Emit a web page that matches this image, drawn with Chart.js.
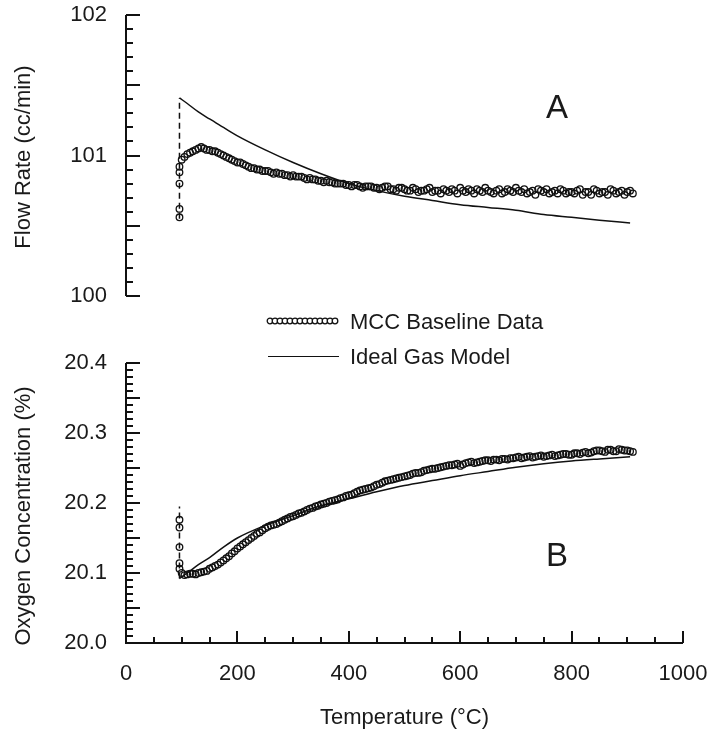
<!DOCTYPE html>
<html>
<head>
<meta charset="utf-8">
<script src="https://cdn.jsdelivr.net/npm/chart.js@4"></script>
<style>
  html, body { margin: 0; padding: 0; background: #fff; overflow: hidden; }
  body { width: 707px; height: 738px; position: relative; font-family: 'Liberation Sans', Arial, Helvetica, sans-serif; color: #1a1a1a; }
  canvas { position: absolute; left: 0; }
  .lbl { position: absolute; white-space: nowrap; }
  .ytitle { position: absolute; width: 0; height: 0; }
  .ytitle span { position: absolute; left: 0; top: 0; white-space: nowrap; font-size: 22px; transform: translate(-50%, -50%) rotate(-90deg); }
  .panel { font-size: 33px; transform: translate(-50%, -50%); }
  .legend-text { font-size: 22px; transform: translateY(-50%); }
</style>
</head>
<body>
<canvas id="flowChart" width="730" height="310" style="top:0"></canvas>
<canvas id="o2Chart" width="730" height="408" style="top:330px"></canvas>

<div class="ytitle" style="left:23px; top:157px"><span>Flow Rate (cc/min)</span></div>
<div class="ytitle" style="left:23px; top:516px"><span>Oxygen Concentration (%)</span></div>
<div class="lbl panel" style="left:557px; top:107px">A</div>
<div class="lbl panel" style="left:557px; top:555px">B</div>

<svg id="legendDots" width="76" height="12" style="position:absolute; left:265px; top:315px"></svg>
<div style="position:absolute; left:268px; top:356px; width:71px; height:0; border-top:1.5px solid #111"></div>
<div class="lbl legend-text" style="left:350px; top:322px">MCC Baseline Data</div>
<div class="lbl legend-text" style="left:350px; top:357px">Ideal Gas Model</div>

<script>
const FONT = "'Liberation Sans', Arial, Helvetica, sans-serif";

// start-up spike, all read at ~96 °C
const clusterTemp = 96;
const flowCluster = [100.56, 100.62, 100.80, 100.88, 100.92];
const o2Cluster = [20.176, 20.165, 20.137, 20.114, 20.106];
const flowDash = [100.55, 101.41];
const o2Dash = [20.092, 20.195];

// MCC baseline data (two interleaved sample sets)
const mccTemps = [100, 110, 120, 130, 140, 150, 160, 170, 180, 190,
  200, 210, 220, 230, 240, 250, 260, 270, 280, 290,
  300, 310, 320, 330, 340, 350, 360, 370, 380, 390,
  400, 410, 420, 430, 440, 450, 460, 470, 480, 490,
  500, 510, 520, 530, 540, 550, 560, 570, 580, 590,
  600, 610, 620, 630, 640, 650, 660, 670, 680, 690,
  700, 710, 720, 730, 740, 750, 760, 770, 780, 790,
  800, 810, 820, 830, 840, 850, 860, 870, 880, 890,
  900, 910];
const flowData = [100.97, 101.01, 101.03, 101.05, 101.05, 101.04, 101.03, 101.01, 100.99, 100.97,
  100.95, 100.94, 100.92, 100.91, 100.90, 100.89, 100.88, 100.88, 100.87, 100.86,
  100.86, 100.85, 100.84, 100.84, 100.83, 100.82, 100.82, 100.81, 100.80, 100.80,
  100.79, 100.79, 100.78, 100.78, 100.78, 100.77, 100.77, 100.78, 100.76, 100.77,
  100.76, 100.75, 100.76, 100.75, 100.76, 100.74, 100.75, 100.76, 100.74, 100.75,
  100.77, 100.74, 100.75, 100.76, 100.74, 100.75, 100.73, 100.76, 100.74, 100.75,
  100.77, 100.74, 100.73, 100.75, 100.76, 100.74, 100.73, 100.75, 100.76, 100.73,
  100.74, 100.75, 100.72, 100.74, 100.76, 100.73, 100.74, 100.76, 100.73, 100.75,
  100.74, 100.73];
const o2Data = [20.100, 20.098, 20.099, 20.100, 20.102, 20.106, 20.110, 20.115, 20.121, 20.128,
  20.135, 20.141, 20.147, 20.153, 20.158, 20.164, 20.168, 20.170, 20.174, 20.178,
  20.181, 20.185, 20.188, 20.192, 20.195, 20.198, 20.200, 20.203, 20.205, 20.208,
  20.211, 20.214, 20.218, 20.220, 20.222, 20.226, 20.229, 20.232, 20.234, 20.236,
  20.238, 20.240, 20.243, 20.244, 20.247, 20.249, 20.250, 20.252, 20.254, 20.255,
  20.253, 20.257, 20.259, 20.258, 20.260, 20.261, 20.262, 20.261, 20.263, 20.264,
  20.265, 20.264, 20.266, 20.265, 20.267, 20.266, 20.268, 20.267, 20.269, 20.270,
  20.269, 20.271, 20.272, 20.271, 20.274, 20.275, 20.273, 20.276, 20.274, 20.276,
  20.275, 20.273];
const mccTemps2 = [105, 115, 125, 135, 145, 155, 165, 175, 185, 195,
  205, 215, 225, 235, 245, 255, 265, 275, 285, 295,
  305, 315, 325, 335, 345, 355, 365, 375, 385, 395,
  405, 415, 425, 435, 445, 455, 465, 475, 485, 495,
  505, 515, 525, 535, 545, 555, 565, 575, 585, 595,
  605, 615, 625, 635, 645, 655, 665, 675, 685, 695,
  705, 715, 725, 735, 745, 755, 765, 775, 785, 795,
  805, 815, 825, 835, 845, 855, 865, 875, 885, 895,
  905];
const flowData2 = [100.99, 101.02, 101.04, 101.06, 101.04, 101.03, 101.02, 101.00, 100.98, 100.96,
  100.95, 100.93, 100.91, 100.90, 100.89, 100.89, 100.87, 100.87, 100.86, 100.85,
  100.85, 100.85, 100.83, 100.83, 100.82, 100.81, 100.81, 100.80, 100.80, 100.79,
  100.78, 100.79, 100.77, 100.78, 100.77, 100.76, 100.78, 100.76, 100.75, 100.77,
  100.75, 100.77, 100.74, 100.75, 100.77, 100.75, 100.73, 100.75, 100.76, 100.73,
  100.75, 100.76, 100.73, 100.75, 100.77, 100.74, 100.75, 100.73, 100.76, 100.74,
  100.75, 100.76, 100.74, 100.72, 100.75, 100.76, 100.74, 100.73, 100.75, 100.74,
  100.73, 100.76, 100.74, 100.72, 100.75, 100.74, 100.72, 100.75, 100.74, 100.72,
  100.75];
const o2Data2 = [20.097, 20.099, 20.098, 20.101, 20.103, 20.108, 20.112, 20.118, 20.124, 20.131,
  20.138, 20.144, 20.150, 20.156, 20.161, 20.166, 20.169, 20.172, 20.176, 20.180,
  20.183, 20.186, 20.190, 20.193, 20.196, 20.199, 20.202, 20.204, 20.207, 20.210,
  20.212, 20.216, 20.219, 20.221, 20.224, 20.227, 20.231, 20.233, 20.235, 20.237,
  20.239, 20.242, 20.243, 20.246, 20.248, 20.249, 20.251, 20.253, 20.254, 20.256,
  20.255, 20.258, 20.257, 20.259, 20.261, 20.260, 20.262, 20.263, 20.262, 20.264,
  20.266, 20.265, 20.267, 20.266, 20.268, 20.267, 20.269, 20.268, 20.270, 20.269,
  20.271, 20.270, 20.273, 20.272, 20.275, 20.274, 20.276, 20.274, 20.277, 20.275,
  20.274];

// ideal gas model
const idealTemps = [96, 110, 130, 150, 175, 200, 250, 300, 350, 400, 450, 500, 550, 600, 650, 700, 750, 800, 850, 905];
const flowIdeal = [101.41, 101.37, 101.31, 101.26, 101.20, 101.14, 101.04, 100.95, 100.87, 100.80,
  100.75, 100.71, 100.68, 100.65, 100.63, 100.61, 100.58, 100.56, 100.54, 100.52];
const o2Ideal = [20.092, 20.100, 20.112, 20.122, 20.137, 20.150, 20.168, 20.182, 20.196, 20.206,
  20.216, 20.225, 20.232, 20.239, 20.245, 20.251, 20.256, 20.260, 20.263, 20.266];

// inward tick marks: [value step, count, function(i) -> length]
const flowTicksY = [0.1, 20, i => (i % 5 === 0 ? 14 : 7)];
const o2TicksY = [0.01, 40, i => (i % 5 === 0 ? 14 : 7)];
const tempTicksX = [50, 20, i => (i % 4 === 0 ? 12 : 6)];

function pts(xs, ys) {
  return xs.map((x, i) => ({ x: x, y: ys[i] }));
}

const inwardTicks = {
  id: 'inwardTicks',
  beforeDatasetsDraw(chart, args, opts) {
    const ctx = chart.ctx;
    const a = chart.chartArea;
    const xs = chart.scales.x, ys = chart.scales.y;
    ctx.save();
    ctx.strokeStyle = '#111';
    ctx.lineWidth = 2;
    ctx.beginPath();
    ctx.moveTo(a.left, a.top);
    ctx.lineTo(a.left, a.bottom);
    if (opts.xTicks) ctx.lineTo(a.right, a.bottom);
    ctx.stroke();

    ctx.beginPath();
    const [ys0, yn, ylen] = opts.yTicks;
    for (let i = 0; i <= yn; i++) {
      const py = Math.round(ys.getPixelForValue(ys.min + i * ys0));
      ctx.moveTo(a.left, py);
      ctx.lineTo(a.left + ylen(i), py);
    }
    if (opts.xTicks) {
      const [xs0, xn, xlen] = opts.xTicks;
      for (let i = 0; i <= xn; i++) {
        const px = Math.round(xs.getPixelForValue(xs.min + i * xs0));
        ctx.moveTo(px, a.bottom);
        ctx.lineTo(px, a.bottom - xlen(i));
      }
    }
    ctx.stroke();
    ctx.restore();
  }
};

function makeDatasets(cluster, data, data2, ideal, dash) {
  return [
    {
      label: 'MCC Baseline Data',
      data: pts(Array(cluster.length).fill(clusterTemp), cluster)
        .concat(pts(mccTemps, data), pts(mccTemps2, data2)),
      showLine: false,
      pointRadius: 3.3,
      pointBorderWidth: 1.3,
      pointBorderColor: '#111',
      pointBackgroundColor: 'rgba(255,255,255,0)'
    },
    {
      label: 'Ideal Gas Model',
      data: pts(idealTemps, ideal),
      showLine: true,
      borderColor: '#111',
      borderWidth: 1.5,
      pointRadius: 0,
      cubicInterpolationMode: 'monotone'
    },
    {
      label: 'start',
      data: pts([clusterTemp, clusterTemp], dash),
      showLine: true,
      borderColor: '#111',
      borderWidth: 1.5,
      borderDash: [6, 4],
      pointRadius: 0
    }
  ];
}

const tickFont = { size: 22, family: FONT };

// y axis: fixed width, no extra overflow padding
function fixY(s) {
  s.width = 126;
  s.paddingTop = 0;
  s.paddingBottom = 0;
}

new Chart(document.getElementById('flowChart'), {
  type: 'scatter',
  data: { datasets: makeDatasets(flowCluster, flowData, flowData2, flowIdeal, flowDash) },
  options: {
    responsive: false,
    animation: false,
    layout: { padding: { top: 15, right: 47, bottom: 14, left: 0 } },
    plugins: {
      legend: { display: false },
      tooltip: { enabled: false },
      inwardTicks: { yTicks: flowTicksY }
    },
    scales: {
      x: { type: 'linear', min: 0, max: 1000, display: false },
      y: {
        min: 100, max: 102,
        afterFit: fixY,
        grid: { display: false },
        border: { display: false },
        ticks: { stepSize: 1, padding: 11, color: '#1a1a1a', font: tickFont }
      }
    }
  },
  plugins: [inwardTicks]
});

new Chart(document.getElementById('o2Chart'), {
  type: 'scatter',
  data: { datasets: makeDatasets(o2Cluster, o2Data, o2Data2, o2Ideal, o2Dash) },
  options: {
    responsive: false,
    animation: false,
    layout: { padding: { top: 33, right: 47, bottom: 0, left: 0 } },
    plugins: {
      legend: { display: false },
      tooltip: { enabled: false },
      inwardTicks: { yTicks: o2TicksY, xTicks: tempTicksX }
    },
    scales: {
      x: {
        type: 'linear', min: 0, max: 1000,
        afterFit: s => { s.height = 95; },
        grid: { display: false },
        border: { display: false },
        ticks: { stepSize: 200, padding: 10, color: '#1a1a1a', font: tickFont, maxRotation: 0, callback: v => String(v) },
        title: { display: true, text: 'Temperature (°C)', color: '#1a1a1a', font: { size: 22, family: FONT }, padding: { top: 0, bottom: 7 } }
      },
      y: {
        min: 20.0, max: 20.4,
        afterFit: fixY,
        grid: { display: false },
        border: { display: false },
        ticks: { stepSize: 0.1, padding: 11, color: '#1a1a1a', font: tickFont, callback: v => v.toFixed(1) }
      }
    }
  },
  plugins: [inwardTicks]
});

// legend swatch: row of small open circles
const svg = document.getElementById('legendDots');
let dots = '<line x1="3" y1="6" x2="73" y2="6" stroke="#111" stroke-width="1.5"/>';
for (let cx = 5; cx <= 71; cx += 5) {
  dots += `<circle cx="${cx}" cy="6" r="2.8" fill="#fff" stroke="#111" stroke-width="1.3"/>`;
}
svg.innerHTML = dots;
</script>
</body>
</html>
